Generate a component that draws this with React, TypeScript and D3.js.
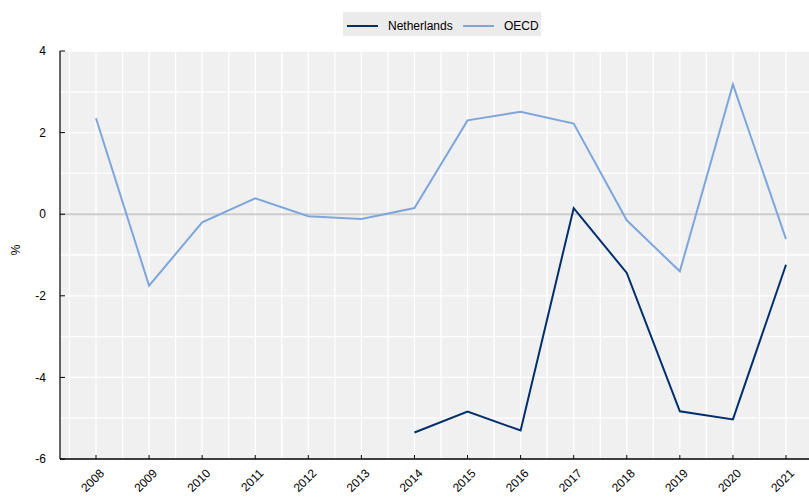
import React from "react";
import * as d3 from "d3";

const years = [2008, 2009, 2010, 2011, 2012, 2013, 2014, 2015, 2016, 2017, 2018, 2019, 2020, 2021];
const oecd: (number | null)[] = [2.35, -1.75, -0.2, 0.39, -0.05, -0.12, 0.15, 2.3, 2.51, 2.22, -0.15, -1.4, 3.18, -0.61];
const netherlands: (number | null)[] = [null, null, null, null, null, null, -5.35, -4.84, -5.3, 0.15, -1.44, -4.83, -5.03, -1.24];
const yTicks = [-6, -4, -2, 0, 2, 4];
const seriesNames = ["Netherlands", "OECD"];
const seriesColors = ["#002F6C", "#7EA6DC"];

export default function App() {
  const W = 809, H = 498;
  const left = 60, right = 809, top = 51, bottom = 459;
  const x = d3.scaleLinear().domain([2008, 2021]).range([96, 786]);
  const y = d3.scaleLinear().domain([-6, 4]).range([bottom, top]);
  const vGrid: number[] = [];
  for (let v = 2007.5; x(v) < right; v += 0.5) if (x(v) > left) vGrid.push(v);
  const hGrid = d3.range(-5, 5, 1);
  const line = d3
    .line<[number, number | null]>()
    .defined((d) => d[1] !== null)
    .x((d) => x(d[0]))
    .y((d) => y(d[1] as number));
  const series = [netherlands, oecd];
  const font = "'Liberation Sans', Arial, sans-serif";
  return (
    <div style={{ position: "fixed", left: 0, top: 0 }}>
      <svg width={W} height={H} style={{ display: "block", fontFamily: font }}>
        <rect x={0} y={0} width={W} height={H} fill="#fff" />
        <rect x={left} y={top} width={right - left} height={bottom - top} fill="#f0f0f0" />
        {vGrid.map((v) => (
          <line key={"v" + v} x1={x(v)} x2={x(v)} y1={top} y2={bottom} stroke="#fff" strokeWidth={1.3} />
        ))}
        {hGrid.map((v) => (
          <line key={"h" + v} x1={left} x2={right} y1={y(v)} y2={y(v)} stroke="#fff" strokeWidth={1.3} />
        ))}
        <line x1={left} x2={right} y1={y(0)} y2={y(0)} stroke="#cccccc" strokeWidth={2} />
        {series.map((s, i) => (
          <path
            key={i}
            d={line(years.map((yr, j) => [yr, s[j]] as [number, number | null])) || ""}
            fill="none"
            stroke={seriesColors[i]}
            strokeWidth={2}
            strokeLinejoin="miter"
          />
        ))}
        <line x1={left} x2={left} y1={top} y2={bottom} stroke="#000" strokeWidth={1.2} />
        <line x1={left} x2={right} y1={bottom} y2={bottom} stroke="#000" strokeWidth={1.5} />
        {yTicks.map((t) => (
          <g key={"yt" + t}>
            <line x1={left} x2={left + 5} y1={y(t)} y2={y(t)} stroke="#000" strokeWidth={1} />
            <text x={left - 14} y={y(t)} dy="0.35em" textAnchor="end" fontSize={12} fill="#000">
              {t}
            </text>
          </g>
        ))}
        {years.map((yr) => (
          <g key={"xt" + yr}>
            <line x1={x(yr)} x2={x(yr)} y1={bottom - 4} y2={bottom} stroke="#000" strokeWidth={1} />
            <text
              transform={`translate(${x(yr) + 6},${bottom + 12}) rotate(-45)`}
              textAnchor="end"
              dy="0.35em"
              fontSize={12}
              fill="#000"
            >
              {yr}
            </text>
          </g>
        ))}
        <text transform={`translate(20,${(top + bottom) / 2 - 5}) rotate(-90)`} textAnchor="middle" fontSize={12}>
          %
        </text>
        <rect x={343} y={12} width={198} height={24} fill="#ebebeb" />
        {seriesNames.map((n, i) => {
          const lx = i === 0 ? 347 : 463;
          return (
            <g key={n}>
              <line x1={lx} x2={lx + 31} y1={26} y2={26} stroke={seriesColors[i]} strokeWidth={2} />
              <text x={lx + 41} y={26} dy="0.35em" fontSize={12} fill="#000">
                {n}
              </text>
            </g>
          );
        })}
      </svg>
    </div>
  );
}
